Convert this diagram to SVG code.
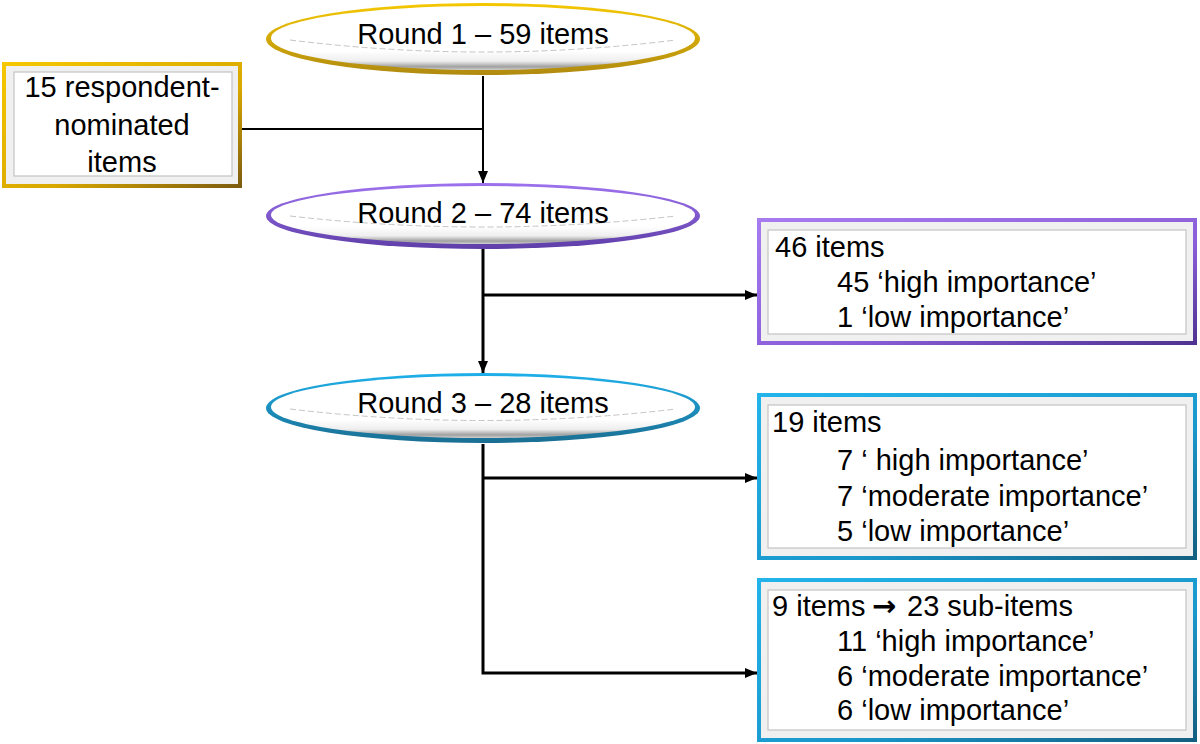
<svg xmlns="http://www.w3.org/2000/svg" width="1200" height="744" viewBox="0 0 1200 744">
<defs>
<linearGradient id="gGold" x1="0" y1="0" x2="1" y2="1"><stop offset="0" stop-color="#F5C800"/><stop offset="0.6" stop-color="#D9A800"/><stop offset="1" stop-color="#7A5A10"/></linearGradient>
<linearGradient id="gPurple" x1="0" y1="0" x2="1" y2="1"><stop offset="0" stop-color="#A77CF0"/><stop offset="0.6" stop-color="#8A5ED8"/><stop offset="1" stop-color="#4E3290"/></linearGradient>
<linearGradient id="gCyan" x1="0" y1="0" x2="1" y2="1"><stop offset="0" stop-color="#22B4EA"/><stop offset="0.6" stop-color="#1A98CC"/><stop offset="1" stop-color="#145E80"/></linearGradient>
<linearGradient id="gEllGold" x1="0" y1="0" x2="0" y2="1"><stop offset="0" stop-color="#F5C800"/><stop offset="1" stop-color="#B08A10"/></linearGradient>
<linearGradient id="gEllPurple" x1="0" y1="0" x2="0" y2="1"><stop offset="0" stop-color="#9E72EE"/><stop offset="1" stop-color="#5E3EA8"/></linearGradient>
<linearGradient id="gEllCyan" x1="0" y1="0" x2="0" y2="1"><stop offset="0" stop-color="#1EB0EA"/><stop offset="1" stop-color="#1A6E92"/></linearGradient>
<linearGradient id="gDisc" x1="0" y1="0" x2="0" y2="1"><stop offset="0" stop-color="#ffffff"/><stop offset="0.7" stop-color="#ffffff"/><stop offset="0.86" stop-color="#eeeeee"/><stop offset="0.95" stop-color="#a0a0a0"/><stop offset="1" stop-color="#d0d0d0"/></linearGradient>
<marker id="arr" viewBox="0 0 12 10" refX="12" refY="5" markerWidth="12" markerHeight="10" markerUnits="userSpaceOnUse" orient="auto"><path d="M0,0 L12,5 L0,10 z" fill="#000"/></marker>
</defs>
<style>
text{font-family:"Liberation Sans",Arial,Helvetica,sans-serif;font-size:29px;fill:#000}
.inner{fill:#fff;stroke:#c4c4c4;stroke-width:1.2}
.bevel{fill:#f0f0f0}
.conn{fill:none;stroke:#000;stroke-width:3}
.thin{stroke-width:2}
.disc{fill:url(#gDisc)}
.dash{fill:none;stroke:#c4c4c4;stroke-width:1;stroke-dasharray:6,3}
</style>
<rect width="1200" height="744" fill="#fff"/>

<g id="connectors">
<path class="conn thin" d="M242,129 H483"/>
<path class="conn thin" d="M483,76 V183" marker-end="url(#arr)"/>
<path class="conn" d="M483,249 V373" marker-end="url(#arr)"/>
<path class="conn" d="M483,295 H757" marker-end="url(#arr)"/>
<path class="conn" d="M483,444 V673 H757" marker-end="url(#arr)"/>
<path class="conn" d="M483,478 H757" marker-end="url(#arr)"/>
</g>

<g id="round1">
<ellipse cx="483" cy="39" rx="217" ry="36" fill="url(#gEllGold)"/>
<ellipse class="disc" cx="483" cy="38" rx="212" ry="32"/>
<path class="dash" d="M290,40 Q483,64 676,40"/>
<text x="483" y="44" text-anchor="middle">Round 1 – 59 items</text>
</g>

<g id="respondent">
<rect x="2" y="62" width="240" height="126" fill="url(#gGold)"/>
<rect class="bevel" x="6" y="66" width="232" height="118"/>
<rect class="inner" x="14" y="72" width="218" height="104"/>
<text x="122" y="97" text-anchor="middle">15 respondent-</text>
<text x="122" y="135" text-anchor="middle">nominated</text>
<text x="122" y="172" text-anchor="middle">items</text>
</g>

<g id="round2">
<ellipse cx="483" cy="216" rx="217" ry="33" fill="url(#gEllPurple)"/>
<ellipse class="disc" cx="483" cy="215" rx="212" ry="29"/>
<path class="dash" d="M290,216 Q483,238 676,216"/>
<text x="483" y="223" text-anchor="middle">Round 2 – 74 items</text>
</g>

<g id="result2">
<rect x="757" y="218" width="440" height="127" fill="url(#gPurple)"/>
<rect class="bevel" x="761" y="222" width="432" height="119"/>
<rect class="inner" x="768" y="230" width="418" height="104"/>
<text x="775" y="257">46 items</text>
<text x="837" y="292">45 ‘high importance’</text>
<text x="837" y="327">1 ‘low importance’</text>
</g>

<g id="round3">
<ellipse cx="483" cy="408" rx="217" ry="35" fill="url(#gEllCyan)"/>
<ellipse class="disc" cx="483" cy="407" rx="212" ry="31"/>
<path class="dash" d="M290,409 Q483,432 676,409"/>
<text x="483" y="413" text-anchor="middle">Round 3 – 28 items</text>
</g>

<g id="result3a">
<rect x="757" y="393" width="440" height="167" fill="url(#gCyan)"/>
<rect class="bevel" x="761" y="397" width="432" height="159"/>
<rect class="inner" x="768" y="405" width="418" height="143"/>
<text x="772" y="432">19 items</text>
<text x="837" y="470">7 ‘ high importance’</text>
<text x="837" y="506">7 ‘moderate importance’</text>
<text x="837" y="541">5 ‘low importance’</text>
</g>

<g id="result3b">
<rect x="757" y="578" width="440" height="164" fill="url(#gCyan)"/>
<rect class="bevel" x="761" y="582" width="432" height="156"/>
<rect class="inner" x="768" y="590" width="418" height="140"/>
<text x="772" y="616">9 items<tspan x="872" font-family="DejaVu Sans,sans-serif" font-weight="bold" font-size="29">→</tspan><tspan x="907">23 sub-items</tspan></text>
<text x="837" y="651">11 ‘high importance’</text>
<text x="837" y="686">6 ‘moderate importance’</text>
<text x="837" y="720">6 ‘low importance’</text>
</g>
</svg>
